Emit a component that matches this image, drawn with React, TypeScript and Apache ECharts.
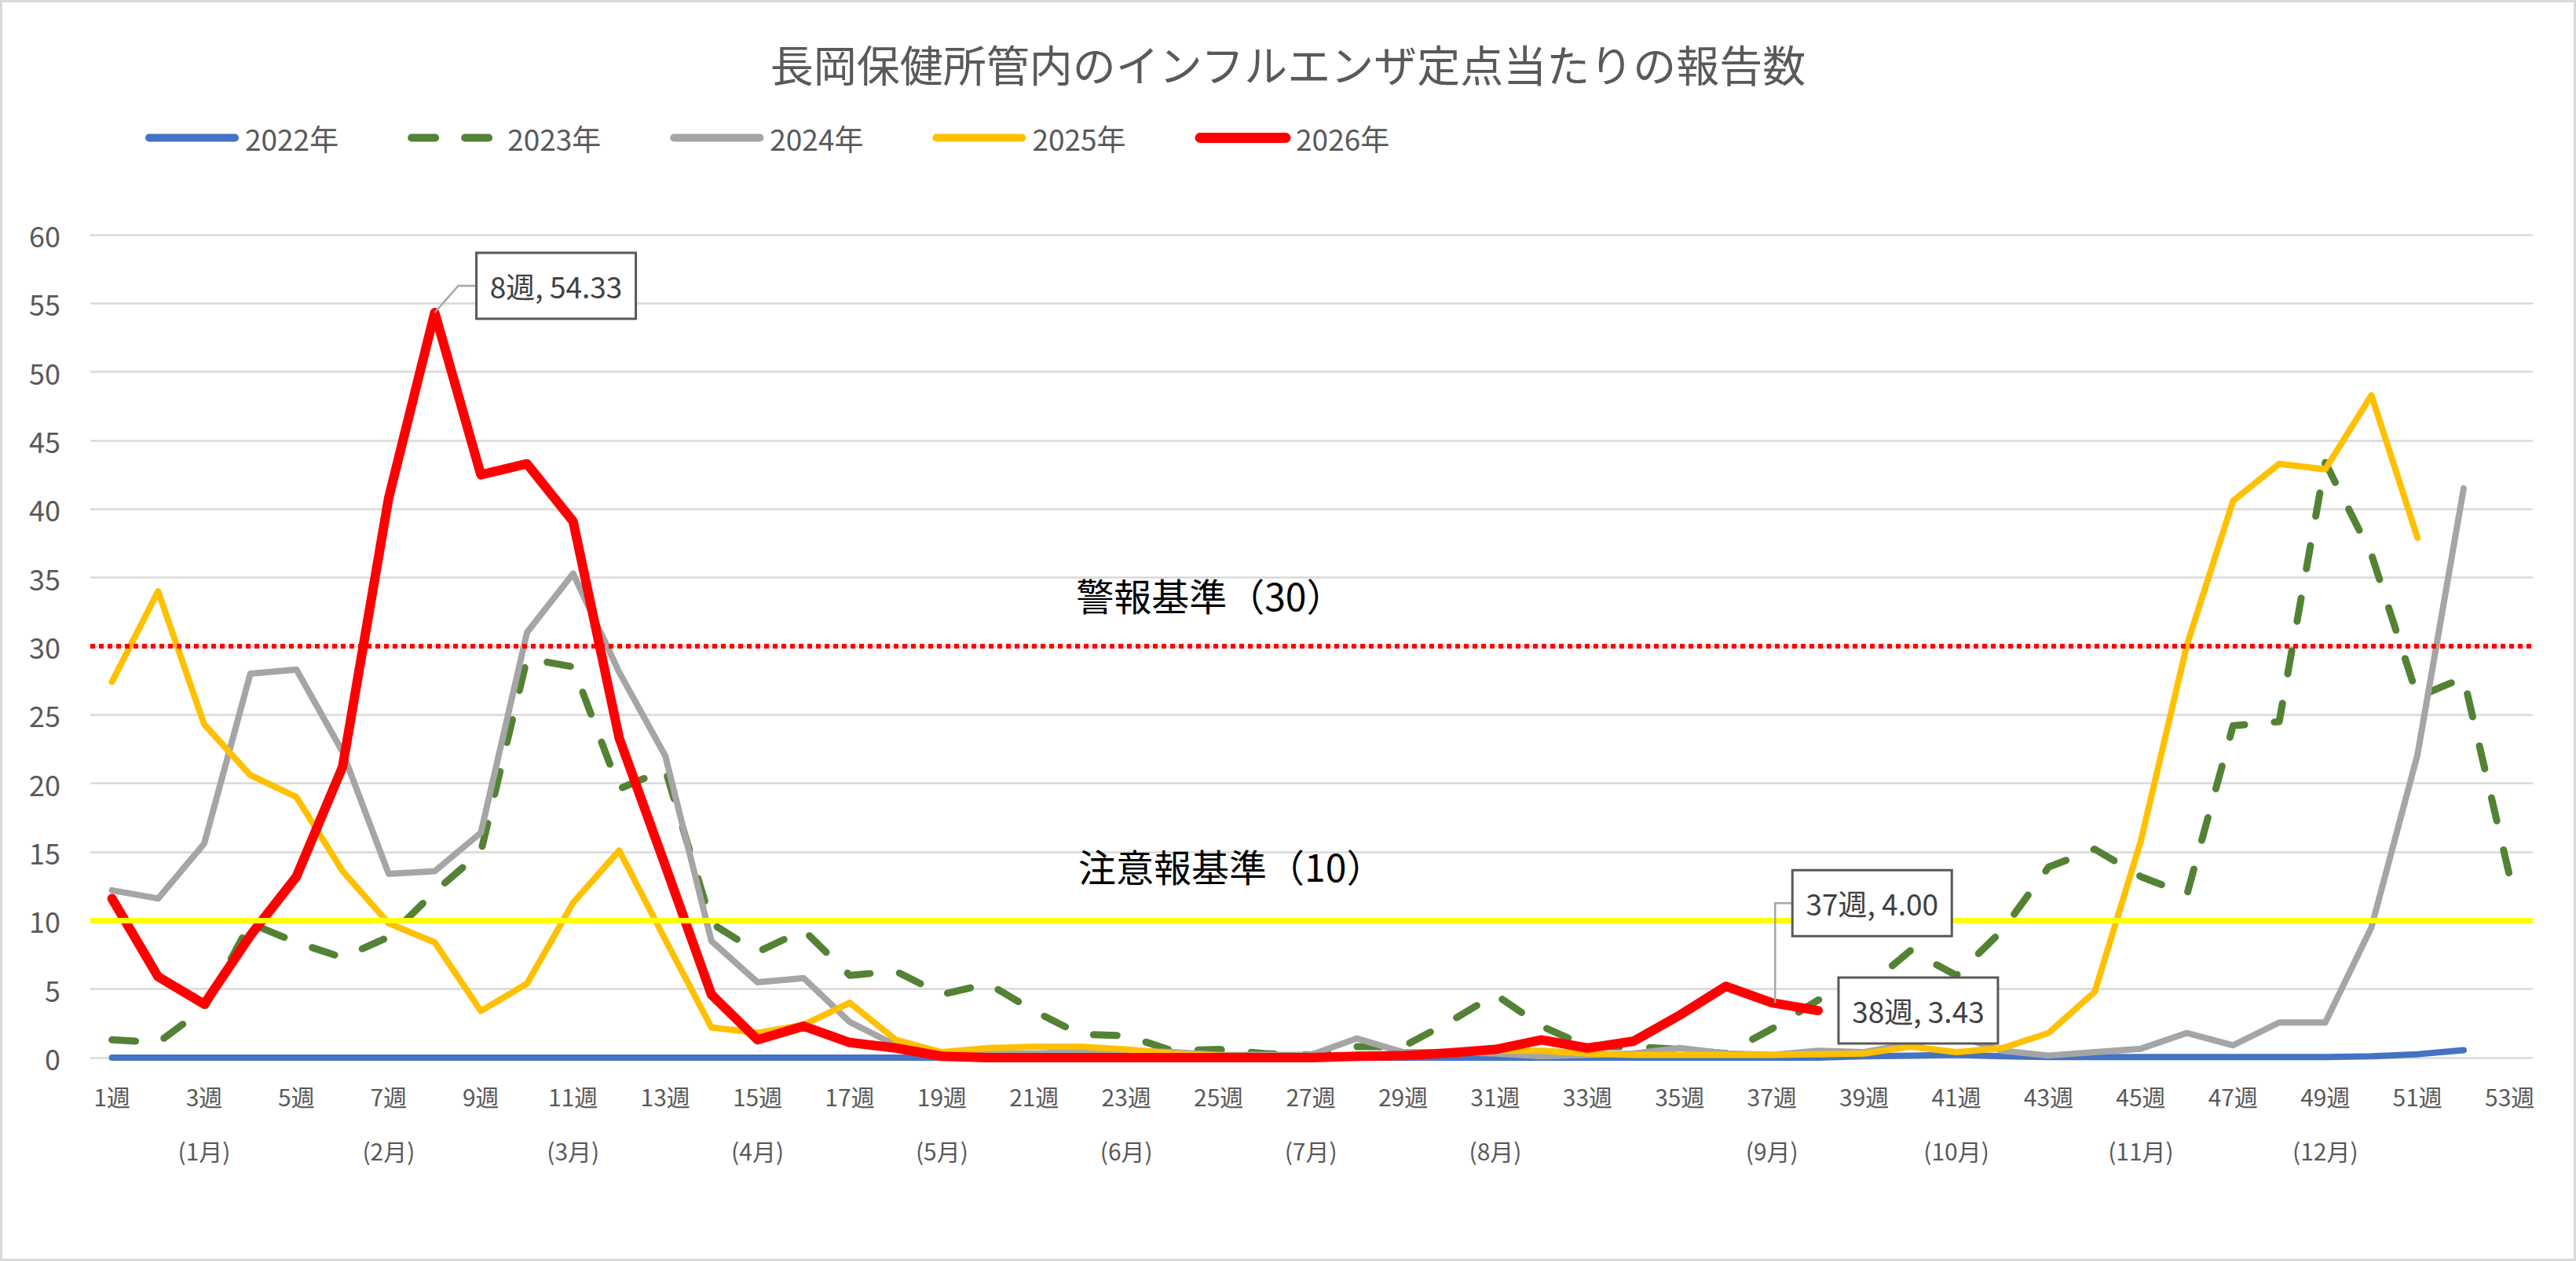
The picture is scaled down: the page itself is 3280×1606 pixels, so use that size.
import { useEffect, useRef } from "react";
import * as echarts from "echarts";

const FONT = "'Noto Sans CJK JP', 'Noto Sans', sans-serif";

const TITLE = "長岡保健所管内のインフルエンザ定点当たりの報告数";

// week tick labels shown on the axis (every other week)
const TICK_WEEKS = [1, 3, 5, 7, 9, 11, 13, 15, 17, 19, 21, 23, 25, 27, 29, 31, 33, 35, 37, 39, 41, 43, 45, 47, 49, 51, 53];
const MONTH_AT_WEEK: Record<number, string> = {
  3: "(1月)", 7: "(2月)", 11: "(3月)", 15: "(4月)", 19: "(5月)", 23: "(6月)",
  27: "(7月)", 31: "(8月)", 37: "(9月)", 41: "(10月)", 45: "(11月)", 49: "(12月)",
};

const SERIES_NAMES = ["2022年", "2023年", "2024年", "2025年", "2026年"];

// values per week, index 0 = 1週
const Y2022 = [
  0, 0, 0, 0, 0, 0, 0, 0, 0, 0, 0, 0, 0, 0, 0, 0, 0, 0, 0, 0,
  0, 0, 0, 0, 0, 0, 0, 0, 0, 0, 0, 0, 0, 0, 0, 0, 0, 0, 0.1, 0.15,
  0.2, 0.1, 0.05, 0.05, 0.05, 0.05, 0.05, 0.05, 0.05, 0.1, 0.25, 0.55,
];
const Y2023 = [
  1.3, 1.1, 3.6, 9.8, 8.4, 7.3, 8.8, 12.1, 15.0, 29.1, 28.5, 19.6, 21.0, 9.8, 7.7, 9.3, 6.0, 6.3, 4.6, 5.4,
  3.4, 1.7, 1.6, 0.5, 0.6, 0.3, 0.2, 0.8, 0.8, 2.6, 4.6, 2.3, 0.8, 0.8, 0.6, 0.3, 2.1, 4.2, 5.0, 7.8,
  6.0, 9.3, 13.9, 15.2, 13.2, 11.9, 24.2, 24.5, 43.4, 36.7, 26.3, 27.7, 13.2,
];
const Y2024 = [
  12.2, 11.6, 15.6, 28.0, 28.3, 22.3, 13.4, 13.6, 16.4, 31.0, 35.3, 28.1, 22.0, 8.5, 5.5, 5.8, 2.6, 0.9, 0.3, 0.3,
  0.3, 0.4, 0.5, 0.4, 0.2, 0.2, 0.2, 1.4, 0.4, 0.4, 0.3, 0.1, 0.2, 0.3, 0.7, 0.3, 0.2, 0.5, 0.4, 1.0,
  1.6, 0.5, 0.15, 0.4, 0.65, 1.8, 0.9, 2.56, 2.56, 9.5, 22.1, 41.5,
];
const Y2025 = [
  27.4, 34.0, 24.3, 20.6, 19.0, 13.6, 9.8, 8.4, 3.4, 5.4, 11.3, 15.1, 8.6, 2.2, 1.8, 2.4, 4.0, 1.3, 0.4, 0.7,
  0.8, 0.8, 0.6, 0.3, 0.15, 0.1, 0.1, 0.1, 0.1, 0.3, 0.5, 0.5, 0.3, 0.2, 0.2, 0.2, 0.2, 0.25, 0.3, 0.8,
  0.4, 0.7, 1.8, 4.8, 15.8, 30.1, 40.6, 43.3, 42.9, 48.3, 37.9,
];
const Y2026 = [
  11.6, 5.9, 3.9, 8.9, 13.2, 21.2, 40.8, 54.33, 42.5, 43.3, 39.1, 23.3, 14.0, 4.6, 1.3, 2.3, 1.1, 0.7, 0.1, 0,
  0, 0, 0, 0, 0, 0, 0, 0.1, 0.15, 0.35, 0.6, 1.3, 0.7, 1.2, 3.1, 5.2, 4.0, 3.43,
];

// threshold levels
const ALERT_LEVEL = 30;
const WARN_LEVEL = 10;
const ALERT_TEXT = "警報基準（30）";
const WARN_TEXT = "注意報基準（10）";

// 2026 points with data labels
const LABEL_WEEKS = [8, 37, 38];

const toPoints = (arr: number[]) => arr.map((v, i) => [i + 1, v]);

// label box placement relative to its point (px)
const LABEL_LAYOUT = [
  { dx: 53, dy: -34, leader: "diag" },
  { dx: 26, dy: -127, leader: "elbow" },
  { dx: 26, dy: 0, leader: "" },
];

function lineSeries(name: string, data: number[], color: string, width: number, type: any = "solid") {
  return {
    name,
    type: "line",
    data: toPoints(data),
    symbol: "none",
    showSymbol: false,
    lineStyle: { color, width, type, cap: "round", join: "round" },
    itemStyle: { color },
    emphasis: { disabled: true },
  };
}

export default function App() {
  const ref = useRef<HTMLDivElement>(null);

  useEffect(() => {
    if (!ref.current) return;
    const chart = echarts.init(ref.current, null, { renderer: "svg" });

    chart.setOption({
      animation: false,
      backgroundColor: "#ffffff",
      textStyle: { fontFamily: FONT },
      title: {
        text: TITLE,
        left: "center",
        top: 47,
        textStyle: { fontSize: 55, fontWeight: "normal", color: "#595959", fontFamily: FONT },
      },
      legend: {
        data: SERIES_NAMES.map((name) => ({
          name,
          lineStyle: { width: name === "2026年" ? 13 : 10 },
        })),
        left: 180,
        top: 152,
        itemWidth: 109,
        itemHeight: 26,
        itemGap: 88,
        itemStyle: { opacity: 0 },
        lineStyle: { width: "inherit" },
        textStyle: { fontSize: 37, color: "#595959", fontFamily: FONT, padding: [0, 0, 0, 8] },
      },
      grid: { left: 115, right: 55, top: 299, bottom: 259 },
      xAxis: {
        type: "value",
        min: 0.53,
        max: 53.5,
        axisLine: { show: false },
        axisTick: { show: false },
        splitLine: { show: false },
        axisLabel: {
          customValues: TICK_WEEKS,
          formatter: (v: number) => (MONTH_AT_WEEK[v] ? `${v}週\n${MONTH_AT_WEEK[v]}` : `${v}週`),
          fontSize: 30,
          color: "#595959",
          lineHeight: 69,
          margin: 14,
          fontFamily: FONT,
        },
      },
      yAxis: {
        type: "value",
        min: 0,
        max: 60,
        interval: 5,
        axisLine: { show: false },
        axisTick: { show: false },
        axisLabel: { fontSize: 36, color: "#595959", margin: 38, fontFamily: FONT },
        splitLine: { lineStyle: { color: "#d9d9d9", width: 2.5 } },
      },
      series: [
        lineSeries("2022年", Y2022, "#4472c4", 8),
        lineSeries("2023年", Y2023, "#548235", 9, [30, 38]),
        lineSeries("2024年", Y2024, "#a5a5a5", 8),
        lineSeries("2025年", Y2025, "#ffc000", 8),
        lineSeries("2026年", Y2026, "#ff0000", 12),
        {
          name: "基準",
          type: "line",
          data: [],
          z: 8,
          silent: true,
          markLine: {
            silent: true,
            symbol: "none",
            animation: false,
            label: { show: false },
            data: [
              { yAxis: ALERT_LEVEL, lineStyle: { color: "#ff0000", width: 6, type: [6, 5], cap: "butt" } },
              { yAxis: WARN_LEVEL, lineStyle: { color: "#ffff00", width: 7, type: "solid" } },
            ],
          },
          markPoint: {
            symbol: "circle",
            symbolSize: 1,
            itemStyle: { color: "rgba(0,0,0,0)" },
            label: {
              show: true,
              position: "right",
              distance: 0,
              fontSize: 48,
              color: "#000000",
              fontFamily: FONT,
              formatter: (p: any) => p.name,
            },
            data: [
              { name: ALERT_TEXT, coord: [21.9, 33.8] },
              { name: WARN_TEXT, coord: [21.95, 14.0] },
            ],
          },
        },
        {
          name: "ラベル",
          type: "custom",
          coordinateSystem: "cartesian2d",
          z: 20,
          silent: true,
          clip: false,
          encode: { x: 0, y: 1 },
          data: LABEL_WEEKS.map((w) => [w, Y2026[w - 1]]),
          renderItem: (params: any, api: any) => {
            const w = api.value(0);
            const v = api.value(1);
            const [px, py] = api.coord([w, v]);
            const L = LABEL_LAYOUT[params.dataIndex];
            const bx = px + L.dx;
            const cy = py + L.dy;
            const bw = 203;
            const bh = 84;
            const children: any[] = [];
            if (L.leader === "diag") {
              children.push({
                type: "polyline",
                shape: { points: [[px, py], [px + 30, cy], [bx, cy]] },
                style: { stroke: "#a6a6a6", lineWidth: 2.5, fill: "none" },
              });
            } else if (L.leader === "elbow") {
              children.push({
                type: "polyline",
                shape: { points: [[px + 4, py], [px + 4, cy], [bx, cy]] },
                style: { stroke: "#a6a6a6", lineWidth: 2.5, fill: "none" },
              });
            }
            children.push({
              type: "rect",
              shape: { x: bx, y: cy - bh / 2, width: bw, height: bh },
              style: { fill: "#ffffff", stroke: "#595959", lineWidth: 3 },
            });
            children.push({
              type: "text",
              style: {
                text: `${w}週, ${Number(v).toFixed(2)}`,
                x: bx + bw / 2,
                y: cy,
                align: "center",
                verticalAlign: "middle",
                fill: "#404040",
                fontSize: 37,
                fontFamily: FONT,
              },
            });
            return { type: "group", children };
          },
        },
      ],
    });

    return () => chart.dispose();
  }, []);

  return (
    <div style={{ position: "fixed", left: 0, top: 0, width: 3280, height: 1606, background: "#fff" }}>
      <div ref={ref} style={{ width: 3280, height: 1606 }} />
      <div
        style={{
          position: "absolute", left: 0, top: 0, width: 3280, height: 1606,
          border: "3px solid #d9d9d9", boxSizing: "border-box", pointerEvents: "none",
        }}
      />
    </div>
  );
}
